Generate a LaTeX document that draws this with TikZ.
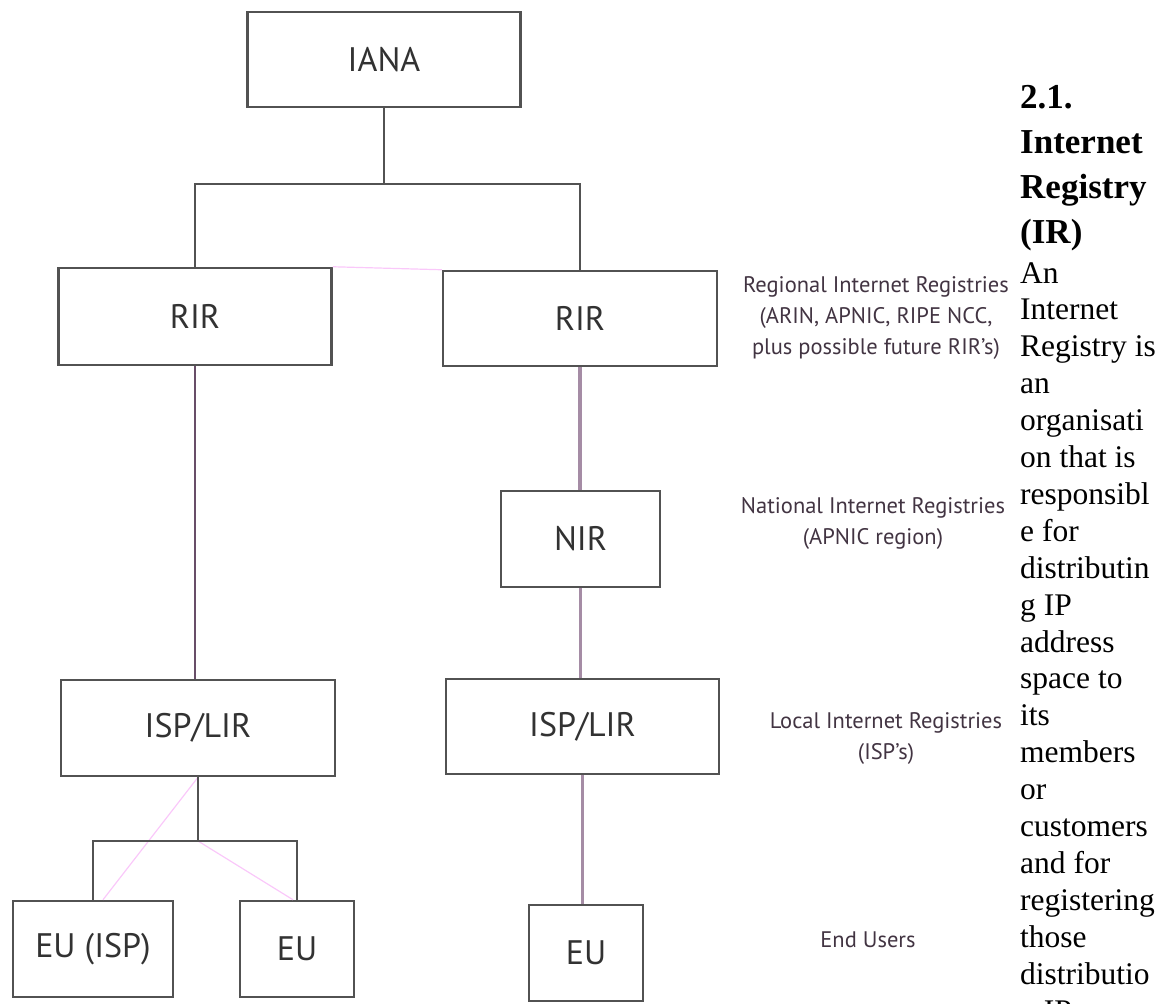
\documentclass[tikz,border=0pt]{standalone}
\usepackage{fontspec}
\setmainfont{Liberation Serif}
\newfontfamily\regfont{PT Sans}
\usetikzlibrary{calc}

\definecolor{boxline}{RGB}{82,82,82}
\definecolor{boxtext}{RGB}{50,50,50}
\definecolor{notetext}{RGB}{66,52,66}
\definecolor{stemdark}{RGB}{104,78,104}
\definecolor{stempale}{RGB}{165,140,165}
\definecolor{ghostpink}{RGB}{250,200,250}

\begin{document}
\begin{tikzpicture}[x=1pt,y=-1pt]
	\tikzset{regbox/.style = {draw = boxline, line width = 2.5pt, fill = white, inner sep = 0pt, text = boxtext, font = \regfont\fontsize{34}{38}\selectfont}}
	\tikzset{note/.style = {align = center, inner sep = 0pt, text = notetext, font = \regfont\fontsize{22.5}{31}\selectfont}}
	\tikzset{tie/.style = {draw = boxline, line width = 2pt}}
	\tikzset{tiedark/.style = {draw = stemdark, line width = 2pt}}
	\tikzset{tiepale/.style = {draw = stempale, line width = 3.5pt}}
	\tikzset{ghost/.style = {draw = ghostpink, line width = 1.2pt}}
	\tikzset{headtxt/.style = {inner sep = 0pt, anchor = base west, font = \bfseries\fontsize{35}{40}\selectfont}}
	\tikzset{bodytxt/.style = {inner sep = 0pt, anchor = base west, font = \fontsize{31.5}{37}\selectfont}}

\path[use as bounding box] (0,0) rectangle (1170,1004);
\clip (0,0) rectangle (1170,1004);

%% Registry boxes
\node[regbox, minimum width = 273pt, minimum height = 95pt] (iana) at (384,59.5) {IANA};

\node[regbox, minimum width = 273pt, minimum height = 97pt] (rirL) at (195,316.5) {RIR};
\node[regbox, minimum width = 274pt, minimum height = 95pt] (rirR) at (580,318.5) {RIR};

\node[regbox, minimum width = 159pt, minimum height = 96pt] (nir) at (580.5,539) {NIR};

\node[regbox, minimum width = 274pt, minimum height = 96pt] (lirL) at (198,728) {ISP/LIR};
\node[regbox, minimum width = 273pt, minimum height = 95pt] (lirR) at (582.5,726.5) {ISP/LIR};

\node[regbox, minimum width = 160pt, minimum height = 96pt] (euISP) at (93,949) {EU (ISP)};
\node[regbox, minimum width = 114pt, minimum height = 96pt] (euL) at (297,949) {EU};
\node[regbox, minimum width = 114pt, minimum height = 96pt] (euR) at (586,953) {EU};

%% Bus levels
\coordinate (rirbus) at (0,184);
\coordinate (eubus) at (0,841);

%% Faint pink strokes
\draw[ghost] (rirL.north east) -- (rirR.north west);
\draw[ghost] (lirL.south) -- ([xshift = 10pt]euISP.north);
\draw[ghost] (lirL.south |- eubus) -- ([xshift = -4pt]euL.north);

%% Edges
\draw[tie] (iana.south) -- (iana.south |- rirbus);
\draw[tie] (rirL.north) -- (rirL.north |- rirbus) -| (rirR.north);
\draw[tiedark] (rirL.south) -- (rirL.south |- lirL.north);
\draw[tiepale] (rirR.south) -- (rirR.south |- nir.north);
\draw[tiepale] (nir.south) -- (nir.south |- lirR.north);
\draw[tiepale] (lirR.south) -- (lirR.south |- euR.north);
\draw[tie] (lirL.south) -- (lirL.south |- eubus);
\draw[tie] (euISP.north) -- (euISP.north |- eubus) -| (euL.north);

%% Level notes
\node[note] (rirnote) at (876,318) {Regional Internet Registries\\(ARIN, APNIC, RIPE NCC,\\plus possible future RIR’s)};
\node[note] (nirnote) at (873,523.5) {National Internet Registries\\(APNIC region)};
\node[note] (lirnote) at (886,739) {Local Internet Registries\\(ISP’s)};
\node[note] (eunote) at (868,940) {End Users};

%% Page text beside the figure
\foreach \hd [count = \i from 0] in {2.1., Internet, Registry, (IR)}
	\node[headtxt] (head\i) at (1020,{108+45*\i}) {\hd};

\foreach \ln [count = \i from 0] in {An, Internet, Registry is, an, organisati, on that is, responsibl, e for, distributin, g IP, address, space to, its, members, or, customers, and for, registering, those, distributio, n IP}
	\node[bodytxt] (body\i) at (1020,{283+36.9*\i}) {\ln};
\end{tikzpicture}
\end{document}
